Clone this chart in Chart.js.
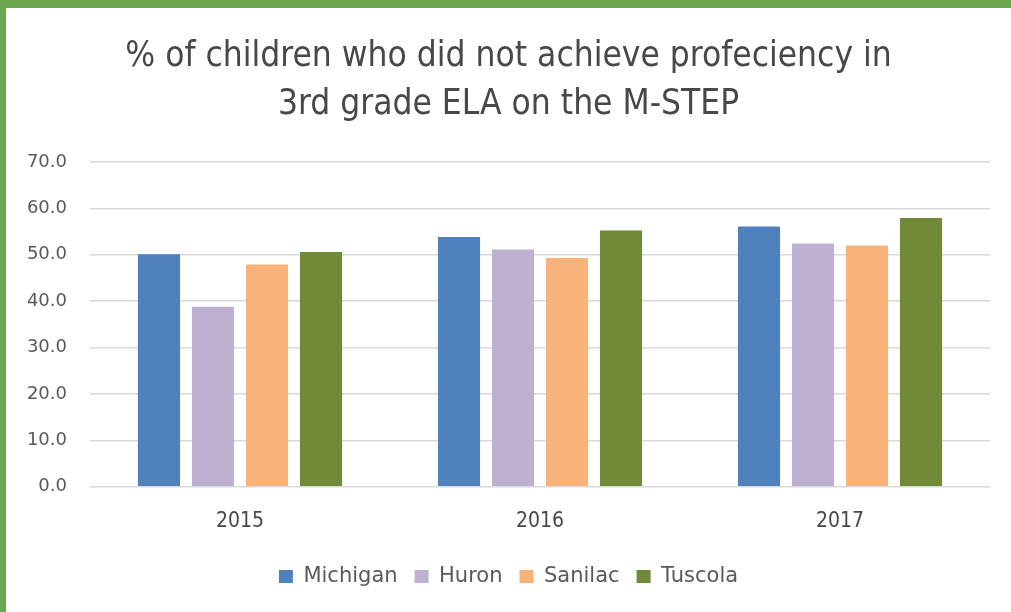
<!DOCTYPE html>
<html>
<head>
<meta charset="utf-8">
<script src="https://cdn.jsdelivr.net/npm/chart.js@4.4.0/dist/chart.umd.min.js"></script>
<style>
  html, body { margin: 0; padding: 0; background: #fff; }
  body { width: 1011px; height: 612px; position: relative; overflow: hidden; }
  .frame { position: absolute; left: 0; top: 0; width: 1011px; height: 612px;
           border-top: 8px solid #6aa84f; border-left: 6px solid #6aa84f; box-sizing: border-box; }
  .wrap { position: absolute; left: 6px; top: 8px; width: 1005px; height: 604px; }
</style>
</head>
<body>
<div class="frame"></div>
<div class="wrap"><canvas id="mstepChart"></canvas></div>
<script>
'use strict';

/* --- Data --- */
const years = ['2015', '2016', '2017'];
const michigan = [50.1, 53.8, 56.1];
const huron = [38.8, 51.1, 52.4];
const sanilac = [47.9, 49.3, 52.0];
const tuscola = [50.6, 55.2, 57.9];
const yTicks = [0, 10, 20, 30, 40, 50, 60, 70];

const NARROW = "'DejaVu Sans Condensed', sans-serif";
const WIDE = "'DejaVu Sans', sans-serif";

function series(label, data, color) {
  return { label, data, backgroundColor: color, borderWidth: 0,
           categoryPercentage: 0.72, barPercentage: 0.78 };
}

new Chart(document.getElementById('mstepChart'), {
  type: 'bar',
  data: {
    labels: years,
    datasets: [
      series('Michigan', michigan, '#4f81bd'),
      series('Huron', huron, '#bdb0d1'),
      series('Sanilac', sanilac, '#f8b27a'),
      series('Tuscola', tuscola, '#718a37')
    ]
  },
  options: {
    responsive: true, maintainAspectRatio: false, animation: false,
    layout: { padding: { left: 21, right: 21, top: 25, bottom: 15 } },
    plugins: {
      title: {
        display: true,
        text: ['% of children who did not achieve profeciency in', '3rd grade ELA on the M-STEP'],
        color: '#484848',
        font: { family: NARROW, size: 35, weight: 'normal', lineHeight: 1.37 },
        padding: { top: 0, bottom: 33 }
      },
      legend: {
        position: 'bottom',
        labels: { color: '#595959', font: { family: WIDE, size: 21 }, boxWidth: 14, boxHeight: 13, padding: 17 }
      },
      tooltip: { enabled: false }
    },
    scales: {
      x: {
        grid: { display: false }, border: { display: false },
        ticks: { color: '#484848', font: { family: NARROW, size: 21 }, padding: 14 },
        afterFit: axis => { axis.height += 1; }
      },
      y: {
        min: 0, max: 70,
        afterBuildTicks: axis => { axis.ticks = yTicks.map(v => ({ value: v })); },
        afterFit: axis => { axis.width = 63; },
        grid: { color: '#d9d9d9', lineWidth: 1.5, drawTicks: false }, border: { display: false },
        ticks: { color: '#595959', font: { family: WIDE, size: 18 }, padding: 23,
                 callback: v => Number(v).toFixed(1) }
      }
    }
  }
});
</script>
</body>
</html>
